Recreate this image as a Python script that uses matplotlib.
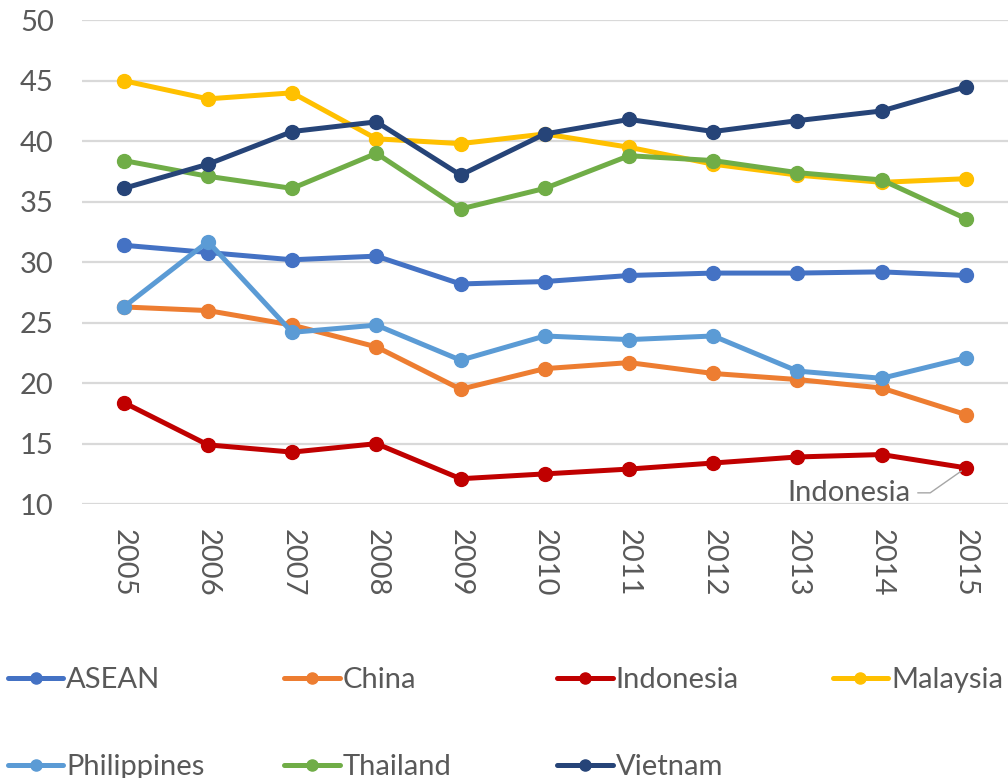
import matplotlib
matplotlib.use("Agg")
import matplotlib.pyplot as plt

years = ["2005", "2006", "2007", "2008", "2009", "2010", "2011", "2012", "2013", "2014", "2015"]

asean = [31.4, 30.8, 30.2, 30.5, 28.2, 28.4, 28.9, 29.1, 29.1, 29.2, 28.9]
china = [26.3, 26.0, 24.8, 23.0, 19.5, 21.2, 21.7, 20.8, 20.3, 19.6, 17.4]
indonesia = [18.4, 14.9, 14.3, 15.0, 12.1, 12.5, 12.9, 13.4, 13.9, 14.1, 13.0]
malaysia = [45.0, 43.5, 44.0, 40.2, 39.8, 40.6, 39.5, 38.1, 37.2, 36.6, 36.9]
philippines = [26.3, 31.7, 24.2, 24.8, 21.9, 23.9, 23.6, 23.9, 21.0, 20.4, 22.1]
thailand = [38.4, 37.1, 36.1, 39.0, 34.4, 36.1, 38.8, 38.4, 37.4, 36.8, 33.6]
vietnam = [36.1, 38.1, 40.8, 41.6, 37.2, 40.6, 41.8, 40.8, 41.7, 42.5, 44.5]

names = ["ASEAN", "China", "Indonesia", "Malaysia", "Philippines", "Thailand", "Vietnam"]
series = [asean, china, indonesia, malaysia, philippines, thailand, vietnam]
colors = ["#4472C4", "#ED7D31", "#C00000", "#FFC000", "#5B9BD5", "#70AD47", "#264478"]

plt.rcParams['font.family'] = ['Lato', 'DejaVu Sans']
txt = "#595959"

fig = plt.figure(figsize=(10.08, 7.78), dpi=100)
ax = fig.add_axes([0.081, 0.352, 0.919, 0.622])

x = list(range(len(years)))
lines = []
for name, vals, c in zip(names, series, colors):
    ln, = ax.plot(x, vals, color=c, lw=3.6, marker="o", markersize=10,
                  solid_capstyle="round", label=name)
    lines.append(ln)

ax.set_xlim(-0.5, len(years) - 0.5)
ax.set_ylim(10, 50)
ax.set_yticks(range(10, 51, 5))
ax.set_xticks(x)
ax.set_xticklabels(years, rotation=270)
ax.tick_params(axis="both", length=0, labelsize=21, colors=txt)
ax.tick_params(axis="y", pad=20)
ax.tick_params(axis="x", pad=18)
ax.grid(axis="y", color="#d9d9d9", lw=1.6)
ax.set_axisbelow(True)
for s in ax.spines.values():
    s.set_visible(False)

ax.annotate("Indonesia", xy=(x[-1], indonesia[-1]), xytext=(-84, -18),
            textcoords="offset points", ha="center", va="center",
            fontsize=21, color=txt,
            arrowprops=dict(arrowstyle="-", color="#a6a6a6", lw=1,
                            shrinkA=3, shrinkB=4,
                            connectionstyle="angle,angleA=0,angleB=-145,rad=0"))

# one legend per column so the columns sit at even spacing, row-wise order
col_x = [0.008, 0.282, 0.553, 0.826]
for k, cx in enumerate(col_x):
    idx = [i for i in (k, k + 4) if i < len(names)]
    fig.legend([lines[i] for i in idx], [names[i] for i in idx],
               loc="upper left", bbox_to_anchor=(cx, 0.143),
               frameon=False, fontsize=21, labelcolor=txt,
               handlelength=1.9, handletextpad=0.1,
               labelspacing=2.1, borderaxespad=0.0, borderpad=0.0,
               markerscale=0.8)

fig.savefig("out.png", dpi=100)
